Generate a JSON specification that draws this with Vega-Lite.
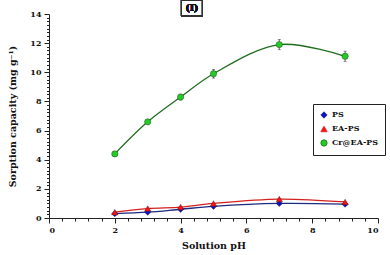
{
  "$schema": "https://vega.github.io/schema/vega-lite/v6.json",
  "width": 329,
  "height": 204,
  "autosize": {"type": "none"},
  "padding": {"left": 49, "top": 14, "right": 12, "bottom": 37},
  "background": "white",
  "config": {
    "view": {"stroke": null},
    "font": "DejaVu Serif",
    "axis": {"labelFont": "DejaVu Serif", "labelFontWeight": "bold", "labelFontSize": 8, "labelColor": "#111", "titleFont": "DejaVu Serif", "titleFontWeight": "bold", "titleFontSize": 9.5, "titleColor": "#111", "domainColor": "#222", "tickColor": "#222", "grid": false},
    "legend": {"title": null, "orient": "none", "legendX": 264, "legendY": 90, "strokeColor": "#222", "fillColor": "white", "padding": 7, "rowPadding": 4, "labelFont": "DejaVu Serif", "labelFontWeight": "bold", "labelFontSize": 8, "labelColor": "#111", "symbolSize": 40, "symbolStrokeWidth": 0.8}
  },
  "data": {
    "values": [
      {"ph": 2, "q": 0.3, "series": "PS", "err": 0},
      {"ph": 3, "q": 0.4, "series": "PS", "err": 0},
      {"ph": 4, "q": 0.6, "series": "PS", "err": 0},
      {"ph": 5, "q": 0.8, "series": "PS", "err": 0},
      {"ph": 7, "q": 1.0, "series": "PS", "err": 0},
      {"ph": 9, "q": 0.95, "series": "PS", "err": 0},
      {"ph": 2, "q": 0.4, "series": "EA-PS", "err": 0},
      {"ph": 3, "q": 0.65, "series": "EA-PS", "err": 0},
      {"ph": 4, "q": 0.75, "series": "EA-PS", "err": 0},
      {"ph": 5, "q": 1.0, "series": "EA-PS", "err": 0},
      {"ph": 7, "q": 1.3, "series": "EA-PS", "err": 0},
      {"ph": 9, "q": 1.1, "series": "EA-PS", "err": 0},
      {"ph": 2, "q": 4.4, "series": "Cr@EA-PS", "err": 0},
      {"ph": 3, "q": 6.6, "series": "Cr@EA-PS", "err": 0},
      {"ph": 4, "q": 8.3, "series": "Cr@EA-PS", "err": 0.2},
      {"ph": 5, "q": 9.9, "series": "Cr@EA-PS", "err": 0.3},
      {"ph": 7, "q": 11.9, "series": "Cr@EA-PS", "err": 0.35},
      {"ph": 9, "q": 11.1, "series": "Cr@EA-PS", "err": 0.35}
    ]
  },
  "resolve": {"axis": {"x": "independent", "y": "independent"}},
  "layer": [
    {
      "mark": {"type": "line", "interpolate": "catmull-rom", "strokeWidth": 1.3},
      "encoding": {
        "x": {"field": "ph", "type": "quantitative", "scale": {"domain": [0, 10], "nice": false}, "axis": {"orient": "bottom", "values": [0.4,0.8,1.2,1.6,2.4,2.8,3.2,3.6,4.4,4.8,5.2,5.6,6.4,6.8,7.2,7.6,8.4,8.8,9.2,9.6], "labels": false, "domain": false, "tickSize": 3, "title": null}},
        "y": {"field": "q", "type": "quantitative", "scale": {"domain": [0, 14], "nice": false}, "axis": {"orient": "left", "values": [0.25,0.5,0.75,1,1.25,1.5,1.75,2.25,2.5,2.75,3,3.25,3.5,3.75,4.25,4.5,4.75,5,5.25,5.5,5.75,6.25,6.5,6.75,7,7.25,7.5,7.75,8.25,8.5,8.75,9,9.25,9.5,9.75,10.25,10.5,10.75,11,11.25,11.5,11.75,12.25,12.5,12.75,13,13.25,13.5,13.75], "labels": false, "domain": false, "tickSize": 2.5, "title": null}},
        "detail": {"field": "series"},
        "stroke": {"field": "series", "type": "nominal", "scale": {"domain": ["PS", "EA-PS", "Cr@EA-PS"], "range": ["#1c2a80", "#d42020", "#1f6e1f"]}}
      }
    },
    {
      "transform": [{"filter": "datum.err > 0"}],
      "mark": {"type": "errorbar", "ticks": {"size": 3, "color": "#444"}, "color": "#444", "thickness": 0.8},
      "encoding": {
        "x": {"field": "ph", "type": "quantitative", "axis": null},
        "y": {"field": "q", "type": "quantitative", "axis": null},
        "yError": {"field": "err"}
      }
    },
    {
      "mark": {"type": "point", "filled": true, "opacity": 1, "stroke": "#222", "strokeWidth": 0.4, "size": 40},
      "encoding": {
        "x": {"field": "ph", "type": "quantitative", "axis": {"orient": "bottom", "values": [0, 2, 4, 6, 8, 10], "tickSize": 5, "labelPadding": 3, "title": "Solution pH", "titlePadding": 6}},
        "y": {"field": "q", "type": "quantitative", "axis": {"orient": "left", "values": [0, 2, 4, 6, 8, 10, 12, 14], "tickSize": 5, "labelPadding": 3, "title": "Sorption capacity (mg g⁻¹)", "titlePadding": 12}},
        "color": {"field": "series", "type": "nominal", "scale": {"domain": ["PS", "EA-PS", "Cr@EA-PS"], "range": ["#1010c8", "#ff1010", "#22cc22"]}},
        "shape": {"field": "series", "type": "nominal", "scale": {"domain": ["PS", "EA-PS", "Cr@EA-PS"], "range": ["diamond", "triangle-up", "circle"]}}
      }
    },
    {
      "mark": {"type": "point", "shape": "M-1,-0.76H1V0.76H-1Z", "size": 441, "filled": false, "stroke": "#333", "strokeWidth": 1, "opacity": 1},
      "encoding": {
        "x": {"datum": 4.345, "type": "quantitative", "axis": null},
        "y": {"datum": 14.42, "type": "quantitative", "axis": null}
      }
    },
    {
      "mark": {"type": "text", "font": "DejaVu Serif", "fontWeight": "bold", "fontSize": 9, "color": "#111", "baseline": "middle", "align": "center"},
      "encoding": {
        "x": {"datum": 4.345, "type": "quantitative", "axis": null},
        "y": {"datum": 14.42, "type": "quantitative", "axis": null},
        "text": {"value": "(I)"}
      }
    }
  ]
}
